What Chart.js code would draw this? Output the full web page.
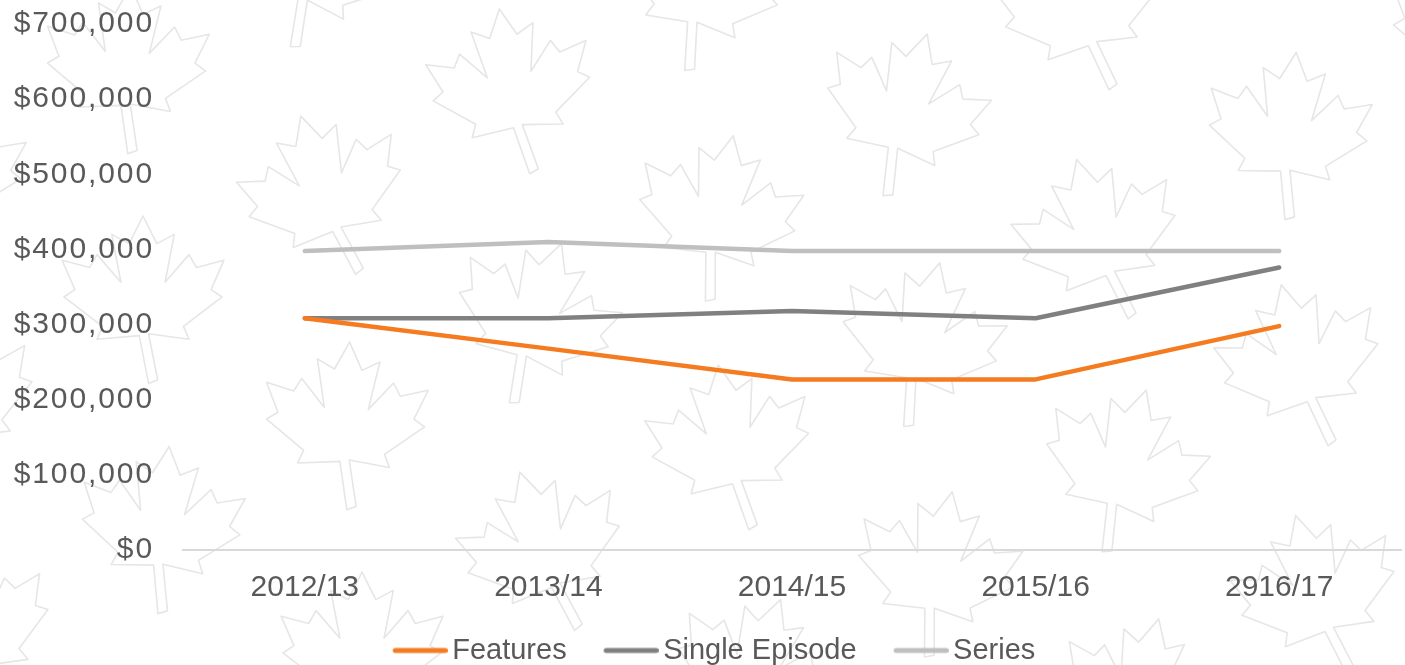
<!DOCTYPE html>
<html>
<head>
<meta charset="utf-8">
<script src="https://cdn.jsdelivr.net/npm/chart.js@4.4.1/dist/chart.umd.min.js"></script>
<style>
  html, body { margin: 0; padding: 0; background: #ffffff; }
  #wrap { width: 1405px; height: 665px; position: relative; }
</style>
</head>
<body>
<div id="wrap"><canvas id="c"></canvas></div>
<script>
// ---- data ----
const categories = ['2012/13', '2013/14', '2014/15', '2015/16', '2916/17'];
const features = [308500, 268000, 227000, 227000, 298000];
const singleEpisode = [308500, 308500, 318000, 308500, 376000];
const series = [398000, 410000, 398000, 398000, 398000];
const seriesNames = ['Features', 'Single Episode', 'Series'];
const yTicks = [0, 100000, 200000, 300000, 400000, 500000, 600000, 700000];

const colors = ['#f47b20', '#808080', '#bfbfbf'];
const textColor = '#595959';
const FONT = "'Liberation Sans', Arial, sans-serif";

// legend line samples (canvas images)
const LEG_W = 72;
function legendImg(color) {
  const c = document.createElement('canvas');
  c.width = LEG_W + 20; c.height = 10;
  const g = c.getContext('2d');
  g.strokeStyle = color; g.lineWidth = 5; g.lineCap = 'round';
  g.beginPath(); g.moveTo(37 + 2.5, 5); g.lineTo(c.width - 2.5, 5); g.stroke();
  return c;
}
const legendImgs = colors.map(legendImg);

// maple leaf background pattern (decoration)
const leafPts = [
  [0,-1.0],[0.15,-0.70],[0.34,-0.80],[0.24,-0.28],[0.50,-0.58],[0.58,-0.44],[0.88,-0.52],
  [0.74,-0.20],[0.86,-0.12],[0.44,0.20],[0.50,0.34],[0.06,0.28],[0.16,0.78],[0.06,0.82],
  [-0.04,0.30],[-0.50,0.34],[-0.44,0.20],[-0.86,-0.12],[-0.74,-0.20],[-0.88,-0.52],
  [-0.58,-0.44],[-0.50,-0.58],[-0.24,-0.28],[-0.34,-0.80],[-0.15,-0.70]
];
const leafRots = [0.35, 0.0, -0.28, 0.2, -0.3, 0.1, 0.3, -0.15, 0.05, -0.25, 0.25];
const bgPlugin = {
  id: 'leafBg',
  beforeDraw(chart) {
    const ctx = chart.ctx;
    ctx.save();
    ctx.fillStyle = '#ffffff';
    ctx.fillRect(0, 0, chart.width, chart.height);
    ctx.strokeStyle = '#e6e6e6';
    ctx.lineWidth = 1.6;
    ctx.lineJoin = 'round';
    const ox = 530, oy = 330, ax = 17, ay = 230, bx = 185, by = -104;
    for (let i = -4; i <= 5; i++) {
      for (let j = -6; j <= 9; j++) {
        const cx = ox + i * ax + j * bx;
        const cy = oy + i * ay + j * by;
        if (cx < -120 || cx > 1530 || cy < -120 || cy > 800) continue;
        const rot = leafRots[((i * 4 + j * 3) % leafRots.length + leafRots.length) % leafRots.length];
        ctx.save();
        ctx.translate(cx, cy);
        ctx.rotate(rot);
        ctx.scale(92, 92);
        ctx.beginPath();
        leafPts.forEach((p, k) => k ? ctx.lineTo(p[0], p[1]) : ctx.moveTo(p[0], p[1]));
        ctx.closePath();
        ctx.restore();
        ctx.stroke();
      }
    }
    ctx.restore();
  },
  afterLayout(chart) {
    const lg = chart.legend;
    if (lg) { lg.top += 10; lg.bottom += 10; }
    const ys = chart.scales.y;
    if (ys && !ys._lsWrapped) {
      const orig = ys.drawLabels.bind(ys);
      ys.drawLabels = function (area) {
        const ctx = chart.ctx;
        ctx.save();
        try { ctx.letterSpacing = '1.9px'; } catch (e) {}
        orig(area);
        ctx.restore();
      };
      ys._lsWrapped = true;
    }
  }
};

const lineData = [features, singleEpisode, series];
const datasets = seriesNames.map((name, i) => ({
  label: name,
  data: lineData[i],
  borderColor: colors[i],
  backgroundColor: colors[i],
  borderWidth: 4.5,
  borderCapStyle: 'round',
  borderJoinStyle: 'round',
  pointRadius: 0,
  pointHoverRadius: 0,
  tension: 0,
  fill: false
}));

new Chart(document.getElementById('c'), {
  type: 'line',
  data: { labels: categories, datasets },
  plugins: [bgPlugin],
  options: {
    responsive: true,
    maintainAspectRatio: false,
    animation: false,
    events: [],
    layout: { padding: { left: 0, right: 4, top: 24, bottom: 0 } },
    plugins: {
      tooltip: { enabled: false },
      legend: {
        display: true,
        position: 'bottom',
        labels: {
          usePointStyle: true,
          pointStyleWidth: LEG_W,
          boxHeight: 10,
          padding: 10,
          color: textColor,
          font: { family: FONT, size: 29 },
          generateLabels(chart) {
            const items = Chart.defaults.plugins.legend.labels.generateLabels(chart);
            items.forEach((it, i) => { it.pointStyle = legendImgs[i]; it.fontColor = textColor; });
            return items;
          }
        }
      }
    },
    scales: {
      x: {
        offset: true,
        grid: { display: false, drawTicks: false },
        border: { display: true, color: '#d9d9d9', width: 2 },
        ticks: { color: textColor, font: { family: FONT, size: 30 }, padding: 20, maxRotation: 0 },
        afterFit(s) { s.height = 66; }
      },
      y: {
        min: 0,
        max: 700000,
        grid: { display: false, drawTicks: false },
        border: { display: false },
        afterBuildTicks(s) { s.ticks = yTicks.map(v => ({ value: v })); },
        afterFit(s) { s.width = 183; s.paddingTop = 0; s.paddingBottom = 0; },
        ticks: {
          color: textColor,
          padding: 29,
          font: { family: FONT, size: 30 },
          callback: v => '$' + Number(v).toLocaleString('en-US')
        }
      }
    }
  }
});
</script>
</body>
</html>
